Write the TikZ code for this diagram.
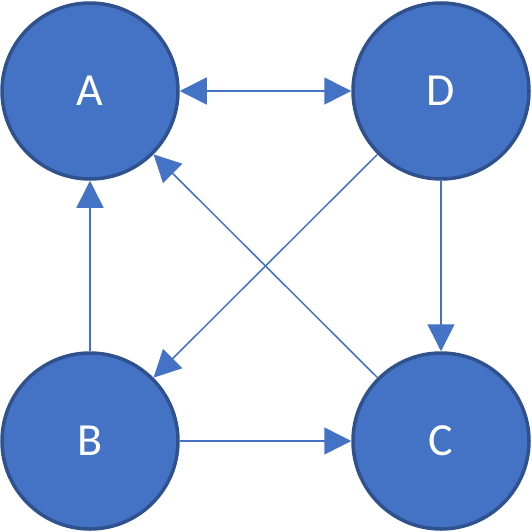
\documentclass[tikz,border=0pt]{standalone}
\usepackage{fontspec}
\setmainfont{Carlito}
\usetikzlibrary{arrows.meta}
\definecolor{nodefill}{HTML}{4472C4}
\definecolor{nodeborder}{HTML}{2F528F}
\begin{document}
\begin{tikzpicture}[x=1pt,y=-1pt,
  vnode/.style={circle,draw=nodeborder,fill=nodefill,line width=3.5pt,minimum size=176pt,inner sep=0pt,text=white,font=\fontsize{46}{52}\selectfont},
  conn/.style={draw=nodefill,line width=1.5pt,-{Triangle[length=27pt,width=27pt]}},
  conn2/.style={draw=nodefill,line width=1.5pt,{Triangle[length=27pt,width=27pt]}-{Triangle[length=27pt,width=27pt]}}]
\useasboundingbox (0,0) rectangle (531,532);
\node[vnode] (A) at (90,91) {A};
\node[vnode] (D) at (441,91) {D};
\node[vnode] (B) at (90,441) {B};
\node[vnode] (C) at (441,441) {C};
\draw[conn2] (A.east) -- (D.west);
\draw[conn] (B.north) -- (A.south);
\draw[conn] (B.east) -- (C.west);
\draw[conn] (D.south) -- (C.north);
\draw[conn] (D) -- (B);
\draw[conn] (C) -- (A);
\end{tikzpicture}
\end{document}
